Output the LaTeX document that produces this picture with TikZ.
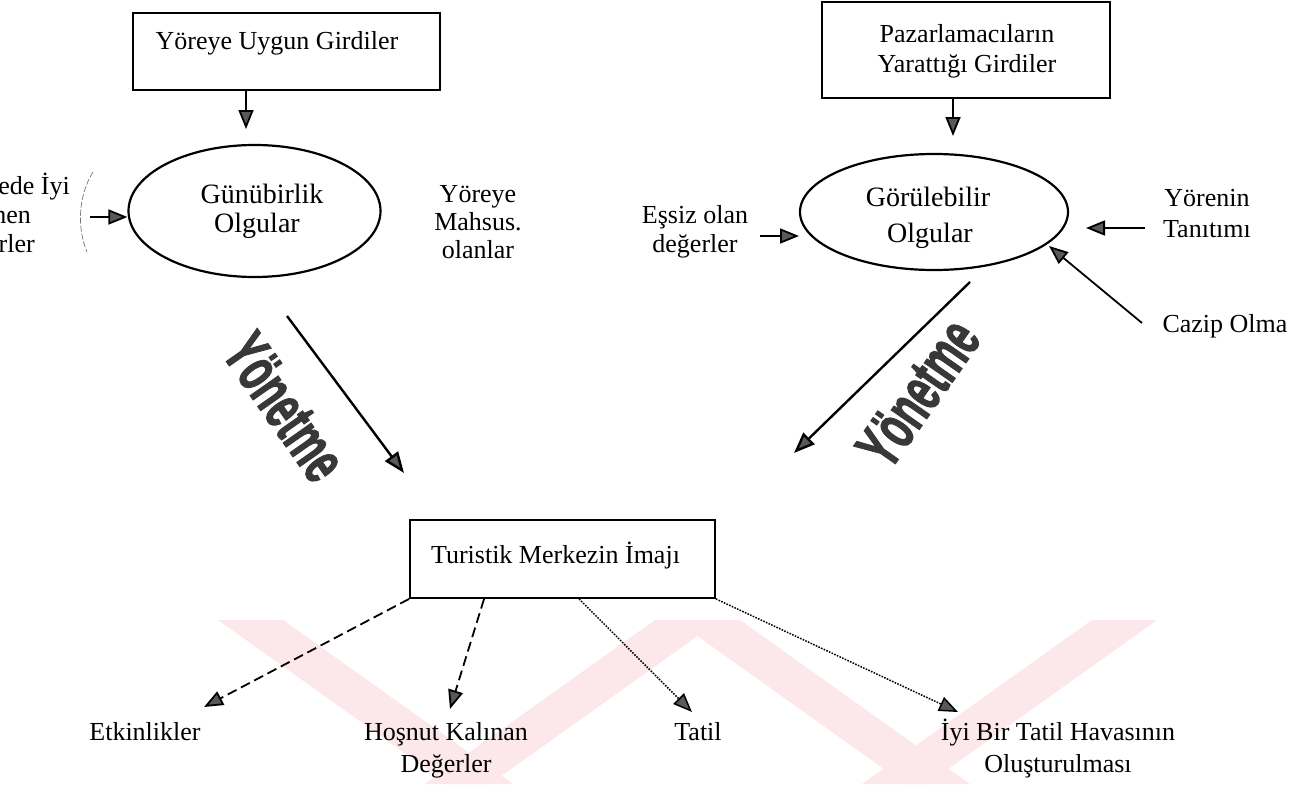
\documentclass[tikz,border=0pt]{standalone}
\usepackage{graphicx}
\usepackage{fontspec}
\setmainfont{Liberation Serif}
\newfontfamily\headfont{Liberation Sans}[BoldFeatures={FakeBold=2.2}]
\usetikzlibrary{arrows.meta,shapes.geometric}

\definecolor{wmpink}{RGB}{252,232,234}

\tikzset{
  every node/.style={font=\fontsize{26}{29}\selectfont, inner sep=0pt},
  boxnode/.style={draw, line width=1.9pt},
  oval/.style={draw, ellipse, line width=2.2pt, inner sep=0pt},
  ovaltext/.style={font=\fontsize{28}{31}\selectfont},
  arr/.style={line width=1.8pt, -{Triangle[length=19pt,width=15pt,fill=black!65]}},
  bigarr/.style={line width=2.4pt, -{Triangle[length=21pt,width=16pt,fill=black!65]}},
  dasharr/.style={arr, line width=1.8pt, dash pattern=on 10pt off 5pt},
  dotarr/.style={arr, line width=1.5pt, dash pattern=on 1.6pt off 1.3pt},
  bigword/.style={font=\headfont\bfseries\fontsize{64}{64}\selectfont, text=black!78},
  faint/.style={line width=0.7pt, draw=black!55, dash pattern=on 6pt off 2pt},
}

\begin{document}
\begin{tikzpicture}[x=1pt,y=-1pt]
\useasboundingbox (0,0) rectangle (1300,784);
\clip (0,0) rectangle (1300,784);
\fill[white] (0,0) rectangle (1300,784);

% pale background band pattern along the lower edge
\begin{scope}
  \clip (0,620) rectangle (1300,784);
  \fill[wmpink] (218,620) -- (283,620) -- (513,784) -- (448,784) -- cycle;
  \fill[wmpink] (655,620) -- (720,620) -- (490,784) -- (425,784) -- cycle;
  \fill[wmpink] (675,620) -- (740,620) -- (970,784) -- (905,784) -- cycle;
  \fill[wmpink] (1092,620) -- (1157,620) -- (927,784) -- (862,784) -- cycle;
\end{scope}

% ---------- left branch ----------
\node[boxnode, minimum width=307pt, minimum height=77pt] (box1) at (286.5,51.5) {};
\node[anchor=base] (box1t) at (277,50) {Yöreye Uygun Girdiler};

\node[oval, minimum width=252pt, minimum height=132pt] (ell1) at (254.5,211) {};
\node[ovaltext, anchor=base] (ell1a) at (262,203) {Günübirlik};
\node[ovaltext, anchor=base] (ell1b) at (257,232) {Olgular};

\node[anchor=base east] (lft1) at (70,194) {Yörede İyi};
\node[anchor=base east] (lft2) at (31,223) {Bilinen};
\node[anchor=base east] (lft3) at (35,252) {Değerler};
\draw[faint] (93,172) .. controls (78,196) and (77,228) .. (87,252);

\node[anchor=base] (yor1) at (478,202) {Yöreye};
\node[anchor=base] (yor2) at (478,230) {Mahsus.};
\node[anchor=base] (yor3) at (478,258) {olanlar};

\coordinate (a1e) at (246,129);
\draw[arr] (box1.south -| a1e) -- (a1e);
\coordinate (lin) at (90,217);
\draw[arr] (lin) -- (lin -| ell1.west);

% ---------- right branch ----------
\node[boxnode, minimum width=288pt, minimum height=96pt] (box2) at (966,50) {};
\node[anchor=base] (box2a) at (967,42) {Pazarlamacıların};
\node[anchor=base] (box2b) at (967,72) {Yarattığı Girdiler};

\node[oval, minimum width=268pt, minimum height=116pt] (ell2) at (934,212) {};
\node[ovaltext, anchor=base] (ell2a) at (928,206) {Görülebilir};
\node[ovaltext, anchor=base] (ell2b) at (930,242) {Olgular};

\node[anchor=base] (ess1) at (695,223) {Eşsiz olan};
\node[anchor=base] (ess2) at (695,252) {değerler};
\node[anchor=base] (tan1) at (1207,206) {Yörenin};
\node[anchor=base] (tan2) at (1207,237) {Tanıtımı};
\node[anchor=base] (caz) at (1225,332) {Cazip Olma};

\coordinate (a2e) at (953,136);
\draw[arr] (box2.south -| a2e) -- (a2e);
\coordinate (essS) at (760,236);
\coordinate (essE) at (799,236);
\draw[arr] (essS) -- (essE);
\coordinate (tanS) at (1145,228);
\coordinate (tanE) at (1086,228);
\draw[arr] (tanS) -- (tanE);
\coordinate (cazS) at (1142,323);
\coordinate (cazE) at (1049,246);
\draw[arr] (cazS) -- (cazE);

% ---------- flows towards the image ----------
\coordinate (ys1) at (287,316);
\coordinate (ye1) at (404,473);
\draw[bigarr] (ys1) -- (ye1);
\node[bigword, rotate=-55] (yon1) at (285,407) {\scalebox{0.6}[1]{Yönetme}};

\coordinate (ys2) at (970,282);
\coordinate (ye2) at (794,453);
\draw[bigarr] (ys2) -- (ye2);
\node[bigword, rotate=55] (yon2) at (918,393) {\scalebox{0.6}[1]{Yönetme}};

% ---------- image of the tourist centre ----------
\node[boxnode, minimum width=305pt, minimum height=78pt] (box3) at (562.5,559) {};
\node[anchor=base] (box3t) at (555.5,563) {Turistik Merkezin İmajı};

\node[anchor=base] (out1) at (145,740) {Etkinlikler};
\node[anchor=base] (out2a) at (446,740) {Hoşnut Kalınan};
\node[anchor=base] (out2b) at (446,772) {Değerler};
\node[anchor=base] (out3) at (698,740) {Tatil};
\node[anchor=base] (out4a) at (1058,740) {İyi Bir Tatil Havasının};
\node[anchor=base] (out4b) at (1058,772) {Oluşturulması};

\coordinate (t1) at (204,707);
\coordinate (t2) at (450,709);
\coordinate (t3) at (692,712);
\coordinate (t4) at (958,712);
\draw[dasharr] (box3.south west) -- (t1);
\draw[dasharr] ([xshift=75pt]box3.south west) -- (t2);
\draw[dotarr] ([xshift=170pt]box3.south west) -- (t3);
\draw[dotarr] (box3.south east) -- (t4);
\end{tikzpicture}
\end{document}
